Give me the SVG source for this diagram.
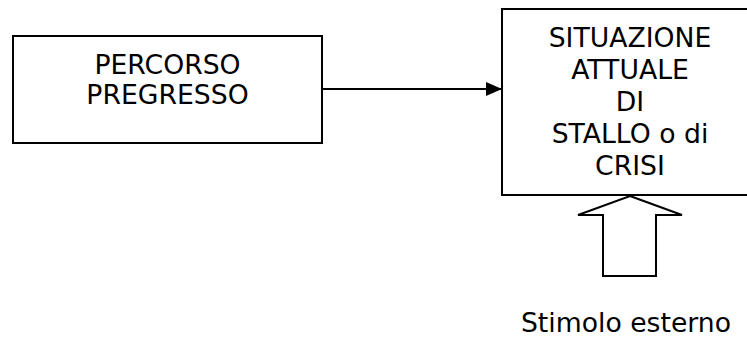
<svg xmlns="http://www.w3.org/2000/svg" width="747" height="338" viewBox="0 0 747 338">
  <defs>
    <style>
      .box { fill: #ffffff; stroke: #000000; stroke-width: 2; }
      .label { font-family: "DejaVu Sans", Verdana, sans-serif; font-size: 26.67px; fill: #000000; text-anchor: middle; }
      .wire { fill: none; stroke: #000000; stroke-width: 2; }
      .fat { fill: #ffffff; stroke: #000000; stroke-width: 2; stroke-linejoin: miter; }
    </style>
    <marker id="head" markerWidth="16" markerHeight="14" refX="16" refY="7" orient="auto" markerUnits="userSpaceOnUse">
      <path d="M0,0 L16,7 L0,14 Z" fill="#000000"/>
    </marker>
  </defs>
  <rect width="747" height="338" fill="#ffffff"/>

  <g id="percorso">
    <rect class="box" x="13" y="36" width="309" height="107"/>
    <text class="label" x="167.5" y="74">PERCORSO</text>
    <text class="label" x="167.5" y="104">PREGRESSO</text>
  </g>

  <g id="situazione">
    <rect class="box" x="502" y="9" width="260" height="186"/>
    <text class="label" x="630" y="47">SITUAZIONE</text>
    <text class="label" x="630" y="79">ATTUALE</text>
    <text class="label" x="630" y="111">DI</text>
    <text class="label" x="630" y="143">STALLO o di</text>
    <text class="label" x="630" y="175">CRISI</text>
  </g>

  <g id="stimolo">
    <path class="fat" d="M630,196 L682,215 L656,215 L656,276 L603,276 L603,215 L578,215 Z"/>
    <text class="label" x="626" y="332">Stimolo esterno</text>
  </g>

  <g id="connectors">
    <line class="wire" x1="322" y1="89" x2="502" y2="89" marker-end="url(#head)"/>
  </g>
</svg>
